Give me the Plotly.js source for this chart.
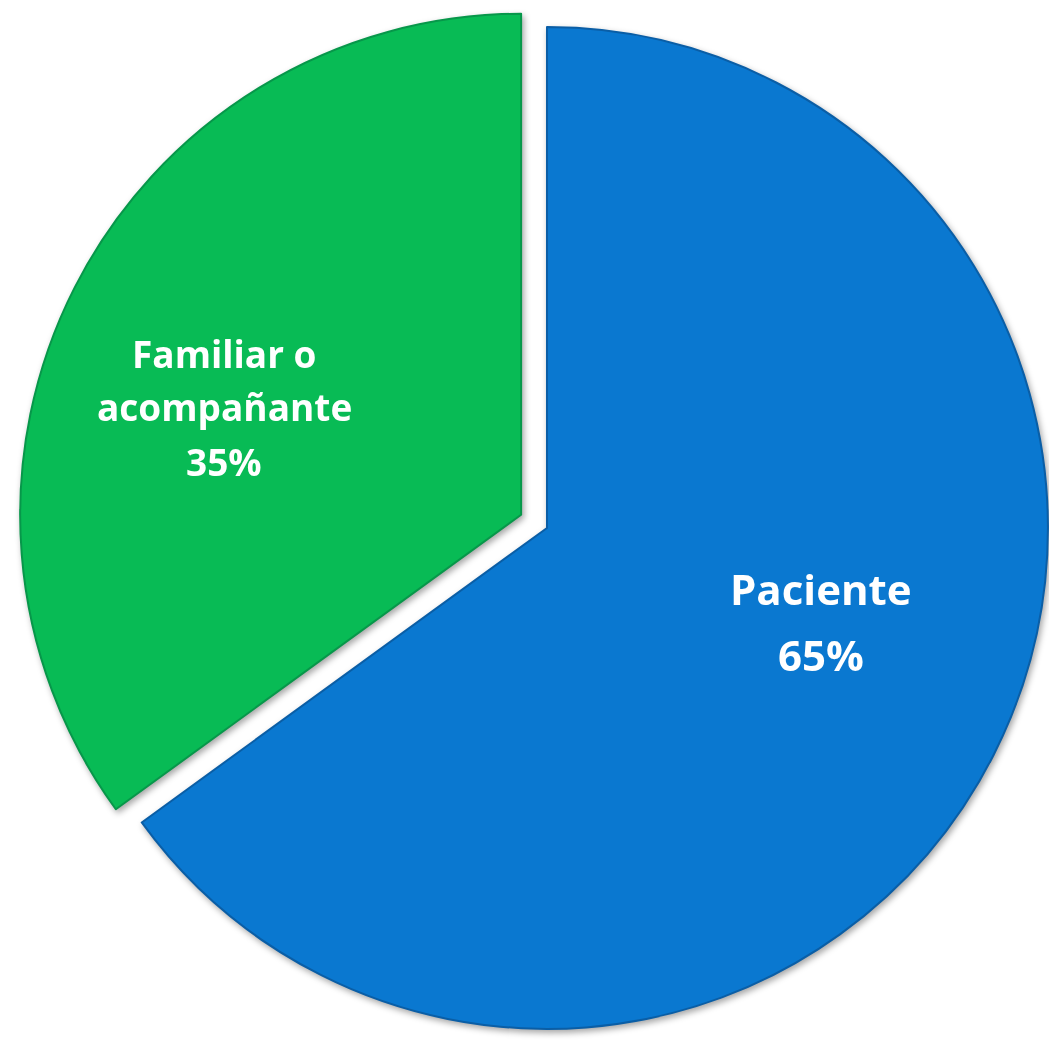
<!DOCTYPE html>
<html>
<head>
<meta charset="utf-8">
<script src="https://cdn.plot.ly/plotly-3.0.1.min.js"></script>
<style>
html,body{margin:0;padding:0;background:#fff;overflow:hidden;width:1049px;height:1049px;}
#chart{position:absolute;left:17px;top:-2px;width:1060px;height:1060px;filter:drop-shadow(2px 3px 3px rgba(0,0,0,0.35));}
</style>
</head>
<body>
<div id="chart"></div>
<script>
// Data
const categories = ["Paciente", "Familiar o acompañante"];
const labelLines = [["Paciente"], ["Familiar o", "acompañante"]];
const values = [65, 35];
const colors = ["#0a78d0", "#08bb55"];
const edgeColors = ["#0a5ea6", "#07974a"];
const pulls = [0, 0.058];

// Label placement (page pixels: centre x, first line y, line step, font size)
const labelPlace = [
  {x: 821, y: 588, step: 66, size: 42},
  {x: 224, y: 353, step: 54, size: 37}
];

const W = 1060, H = 1060, OFFX = 17, OFFY = -2;
const total = values.reduce((a, b) => a + b, 0);

const annotations = [];
categories.forEach((c, i) => {
  const lines = labelLines[i].concat([Math.round(values[i] / total * 100) + "%"]);
  const p = labelPlace[i];
  lines.forEach((ln, j) => {
    const py = p.y + j * p.step;
    annotations.push({
      xref: "paper", yref: "paper",
      x: (p.x - OFFX) / W,
      y: 1 - (py - OFFY) / H,
      xanchor: "center", yanchor: "middle",
      text: ln,
      showarrow: false,
      font: {family: "Open Sans, sans-serif", size: p.size, color: "#ffffff", weight: "bold"}
    });
  });
});

const trace = {
  type: "pie",
  labels: categories,
  values: values,
  sort: false,
  direction: "clockwise",
  rotation: 0,
  pull: pulls,
  marker: {colors: colors, line: {color: edgeColors, width: 2}},
  textinfo: "none",
  hoverinfo: "none",
  showlegend: false
};

Plotly.newPlot("chart", [trace], {
  width: W,
  height: H,
  margin: {l: 0, r: 0, t: 0, b: 0},
  paper_bgcolor: "rgba(0,0,0,0)",
  showlegend: false,
  annotations: annotations
}, {staticPlot: true});
</script>
</body>
</html>
